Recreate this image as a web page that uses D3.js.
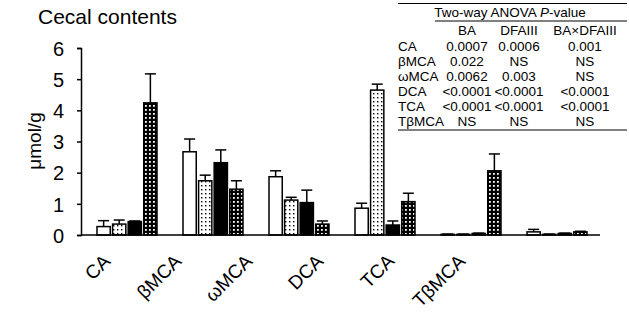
<!DOCTYPE html>
<html>
<head>
<meta charset="utf-8">
<script src="https://cdn.jsdelivr.net/npm/d3@7"></script>
<style>
  body { margin: 0; background: #fff; }
  text { font-family: "Liberation Sans", Arial, sans-serif; fill: #000; }
</style>
</head>
<body>
<div id="chart"></div>
<script>
// bile acids on the x axis
var categories = ["CA", "βMCA", "ωMCA", "DCA", "TCA", "TβMCA"];

// four diet groups, mean and SEM (µmol/g)
var s1 = [0.27, 2.67, 1.87, 0.86, 0.02, 0.10];
var s1Err = [0.19, 0.41, 0.19, 0.16, 0.01, 0.08];
var s2 = [0.35, 1.74, 1.12, 4.65, 0.02, 0.02];
var s2Err = [0.13, 0.18, 0.09, 0.19, 0.01, 0.01];
var s3 = [0.43, 2.32, 1.04, 0.32, 0.05, 0.05];
var s3Err = [0.02, 0.41, 0.40, 0.13, 0.01, 0.01];
var s4 = [4.24, 1.47, 0.35, 1.07, 2.06, 0.10];
var s4Err = [0.93, 0.27, 0.10, 0.27, 0.54, 0.02];

var yTicks = [0, 1, 2, 3, 4, 5, 6];

// ANOVA table
var tableHead = ["BA", "DFAIII", "BA×DFAIII"];
var tableRows = ["CA", "βMCA", "ωMCA", "DCA", "TCA", "TβMCA"];
var pBA = ["0.0007", "0.022", "0.0062", "<0.0001", "<0.0001", "NS"];
var pDFA = ["0.0006", "NS", "0.003", "<0.0001", "<0.0001", "NS"];
var pInt = ["0.001", "NS", "NS", "<0.0001", "<0.0001", "NS"];

var series = [
  {vals: s1, err: s1Err, fill: "#fff"},
  {vals: s2, err: s2Err, fill: "url(#light)"},
  {vals: s3, err: s3Err, fill: "#000"},
  {vals: s4, err: s4Err, fill: "url(#dense)"}
];

var W = 629, H = 323;
var svg = d3.select("#chart").append("svg").attr("width", W).attr("height", H);

// patterns
var defs = svg.append("defs");
var pl = defs.append("pattern").attr("id", "light").attr("patternUnits", "userSpaceOnUse")
  .attr("width", 4).attr("height", 4);
pl.append("rect").attr("width", 4).attr("height", 4).attr("fill", "#fff");
pl.append("rect").attr("x", 1).attr("y", 1).attr("width", 1.4).attr("height", 1.4).attr("fill", "#000");
var pd = defs.append("pattern").attr("id", "dense").attr("patternUnits", "userSpaceOnUse")
  .attr("width", 4).attr("height", 4);
pd.append("rect").attr("width", 4).attr("height", 4).attr("fill", "#000");
pd.append("rect").attr("x", 1).attr("y", 1).attr("width", 1.8).attr("height", 1.8).attr("fill", "#fff");

// scales
var x = d3.scaleBand().domain(categories).range([84, 600]);
var xInner = d3.scaleBand().domain(d3.range(4)).range([13, 73]).paddingInner(0.15);
var y = d3.scaleLinear().domain([0, 6]).range([235, 48]);
// category labels sit a bit to the left of their groups in the original
var xLab = d3.scalePoint().domain(categories).range([102, 457]);

// title
svg.append("text").attr("x", 38).attr("y", 24).style("font-size", "21px").text("Cecal contents");

// y axis
var yAxis = svg.append("g").attr("transform", "translate(81,0)")
  .call(d3.axisLeft(y).tickValues(yTicks).tickFormat(d3.format("d")).tickSize(4).tickPadding(13));
yAxis.select(".domain").attr("stroke", "#000").attr("stroke-width", 1.5);
yAxis.selectAll(".tick line").attr("stroke", "#000").attr("stroke-width", 1.5);
yAxis.selectAll(".tick text").style("font-size", "20px").attr("dy", "0.36em");

svg.append("text")
  .attr("transform", "translate(41,141) rotate(-90)")
  .attr("text-anchor", "middle")
  .style("font-size", "19px")
  .text("μmol/g");

// bars
series.forEach(function(s, si) {
  var g = svg.append("g");
  // error bars first so the bar outline covers the bottom
  g.selectAll("line.err").data(categories).enter().append("line")
    .attr("x1", function(c) { return x(c) + xInner(si) + xInner.bandwidth() / 2; })
    .attr("x2", function(c) { return x(c) + xInner(si) + xInner.bandwidth() / 2; })
    .attr("y1", function(c, i) { return y(s.vals[i]); })
    .attr("y2", function(c, i) { return y(s.vals[i] + s.err[i]); })
    .attr("stroke", "#000").attr("stroke-width", 1.5);
  g.selectAll("line.cap").data(categories).enter().append("line")
    .attr("x1", function(c) { return x(c) + xInner(si) + xInner.bandwidth() / 2 - 5.5; })
    .attr("x2", function(c) { return x(c) + xInner(si) + xInner.bandwidth() / 2 + 5.5; })
    .attr("y1", function(c, i) { return y(s.vals[i] + s.err[i]); })
    .attr("y2", function(c, i) { return y(s.vals[i] + s.err[i]); })
    .attr("stroke", "#000").attr("stroke-width", 1.5);
  g.selectAll("rect").data(categories).enter().append("rect")
    .attr("x", function(c) { return x(c) + xInner(si); })
    .attr("width", xInner.bandwidth())
    .attr("y", function(c, i) { return y(s.vals[i]); })
    .attr("height", function(c, i) { return y(0) - y(s.vals[i]); })
    .attr("fill", s.fill)
    .attr("stroke", "#000").attr("stroke-width", 1.5);
});

// x axis (line only)
svg.append("line").attr("x1", 81).attr("x2", 600).attr("y1", y(0)).attr("y2", y(0))
  .attr("stroke", "#000").attr("stroke-width", 1.5);

svg.selectAll(".xlab").data(categories).enter().append("text")
  .attr("transform", function(c) { return "translate(" + xLab(c) + ",253) rotate(-45)"; })
  .attr("text-anchor", "end")
  .attr("dy", "0.7em")
  .style("font-size", "19px")
  .text(function(c) { return c; });

// ANOVA table
var tb = svg.append("g");
var colX = [398, 467, 519, 585];
var rowY = d3.scalePoint().domain(tableRows).range([51, 126]);
tb.append("line").attr("x1", 398).attr("x2", 627).attr("y1", 3.5).attr("y2", 3.5).attr("stroke", "#000");
tb.append("text").attr("x", 510).attr("y", 17).attr("text-anchor", "middle").style("font-size", "13.5px")
  .html('Two-way ANOVA <tspan font-style="italic">P</tspan>-value');
tb.append("line").attr("x1", 435).attr("x2", 627).attr("y1", 21).attr("y2", 21).attr("stroke", "#000");
tb.selectAll(".hd").data(tableHead).enter().append("text")
  .attr("x", function(d, i) { return colX[i + 1]; }).attr("y", 35)
  .attr("text-anchor", "middle").style("font-size", "13.5px").text(function(d) { return d; });
tableRows.forEach(function(r, i) {
  var cells = [r, pBA[i], pDFA[i], pInt[i]];
  tb.selectAll(null).data(cells).enter().append("text")
    .attr("x", function(d, j) { return colX[j]; })
    .attr("y", rowY(r))
    .attr("text-anchor", function(d, j) { return j ? "middle" : "start"; })
    .style("font-size", "13.5px")
    .text(function(d) { return d; });
});
tb.append("line").attr("x1", 398).attr("x2", 627).attr("y1", 130).attr("y2", 130).attr("stroke", "#000");
</script>
</body>
</html>
